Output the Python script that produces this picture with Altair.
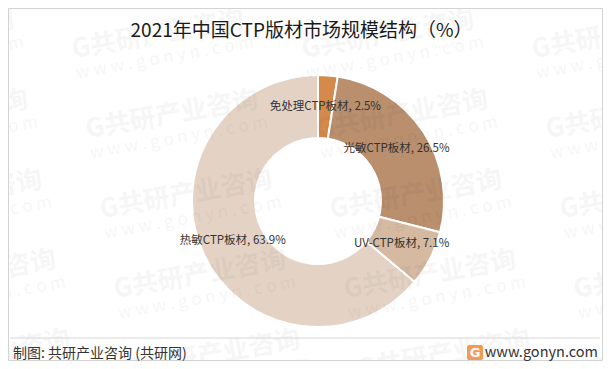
import math
import altair as alt
import pandas as pd

# Data
categories = ["免处理CTP板材", "光敏CTP板材", "UV-CTP板材", "热敏CTP板材"]
shares = [2.5, 26.5, 7.1, 63.9]
colors = ["#D58A4B", "#B98F6E", "#D5B9A1", "#E4D3C5"]

title_text = "2021年中国CTP版材市场规模结构（%）"
source_text = "制图: 共研产业咨询 (共研网)"
site_text = "www.gonyn.com"
wm_main = "G共研产业咨询"
wm_sub = "w w w . g o n y n . c o m"

FONT = "Noto Sans CJK SC"
W, H = 595, 353
CX, CY = 310, 193   # donut centre (chart coordinates)

df = pd.DataFrame({
    "cat": categories,
    "value": shares,
    "idx": list(range(len(categories))),
})
df["label"] = [f"{c}, {v}%" for c, v in zip(categories, shares)]

base = alt.Chart(df)

arcs = base.mark_arc(innerRadius=63, outerRadius=126, stroke="white", strokeWidth=2).encode(
    theta=alt.Theta("value:Q", stack=True),
    color=alt.Color("cat:N", scale=alt.Scale(domain=categories, range=colors), legend=None),
    order=alt.Order("idx:Q"),
    x=alt.value(CX),
    y=alt.value(CY),
)

labels = base.mark_text(radius=94, font=FONT, fontSize=11.5, color="#333333",
                        align="center", baseline="middle").encode(
    theta=alt.Theta("value:Q", stack=True),
    order=alt.Order("idx:Q"),
    text="label:N",
    x=alt.value(CX),
    y=alt.value(CY),
)

# faint watermark tiling (decoration)
rows = []
tilt = math.radians(10)
for k in range(-1, 5):
    for j in range(-2, 3):
        x0 = 64 + 14 * k + 230 * j
        y0 = 42 + 80 * k
        rows.append({"wx": x0, "wy": y0, "txt": wm_main, "kind": "main"})
        rows.append({"wx": x0 + 24 * math.sin(tilt), "wy": y0 + 24 * math.cos(tilt),
                     "txt": wm_sub, "kind": "sub"})
wm = pd.DataFrame(rows)
wm_main_layer = alt.Chart(wm).transform_filter(alt.datum.kind == "main").mark_text(
    font=FONT, fontWeight="bold", fontSize=26, color="#000000", opacity=0.03,
    align="left", baseline="middle", angle=350
).encode(
    x=alt.X("wx:Q", scale=None), y=alt.Y("wy:Q", scale=None), text="txt:N"
)
wm_sub_layer = alt.Chart(wm).transform_filter(alt.datum.kind == "sub").mark_text(
    font=FONT, fontSize=17, color="#000000", opacity=0.03,
    align="left", baseline="middle", angle=350
).encode(
    x=alt.X("wx:Q", scale=None), y=alt.Y("wy:Q", scale=None), text="txt:N"
)

one = pd.DataFrame({"t": [title_text], "s": [source_text], "w": [site_text], "g": ["G"]})
tb = alt.Chart(one)

border = tb.mark_rect(fill=None, stroke="#d3d3d3", strokeWidth=1).encode(
    x=alt.value(0.5), x2=alt.value(W - 0.5), y=alt.value(0.5), y2=alt.value(H - 0.5)
)

title = tb.mark_text(font=FONT, fontSize=19, color="#1a1a1a", align="center", baseline="middle").encode(
    text="t:N", x=alt.value(W / 2 - 4), y=alt.value(23)
)

sep = tb.mark_rule(color="#d6d6d6", strokeWidth=1).encode(
    x=alt.value(2), x2=alt.value(592), y=alt.value(330)
)

source = tb.mark_text(font=FONT, fontSize=14, color="#333333", align="left", baseline="middle").encode(
    text="s:N", x=alt.value(5), y=alt.value(346)
)

site = tb.mark_text(font=FONT, fontSize=14.5, color="#333333", align="right", baseline="middle").encode(
    text="w:N", x=alt.value(590), y=alt.value(345)
)

logo = tb.mark_rect(color="#F39A55", cornerRadius=2).encode(
    x=alt.value(459), x2=alt.value(475), y=alt.value(337), y2=alt.value(352)
)
logo_g = tb.mark_text(font="DejaVu Sans", fontWeight="bold", fontSize=13, color="white",
                      align="center", baseline="middle").encode(
    text="g:N", x=alt.value(467), y=alt.value(345)
)

chart = alt.layer(
    arcs, labels, wm_main_layer, wm_sub_layer, border, title, sep, source, site, logo, logo_g
).properties(
    width=W, height=H, padding=0, autosize=alt.AutoSizeParams(type="none")
).configure_view(stroke=None)

chart.save("out.html", embed_options={"renderer": "svg", "actions": False})
